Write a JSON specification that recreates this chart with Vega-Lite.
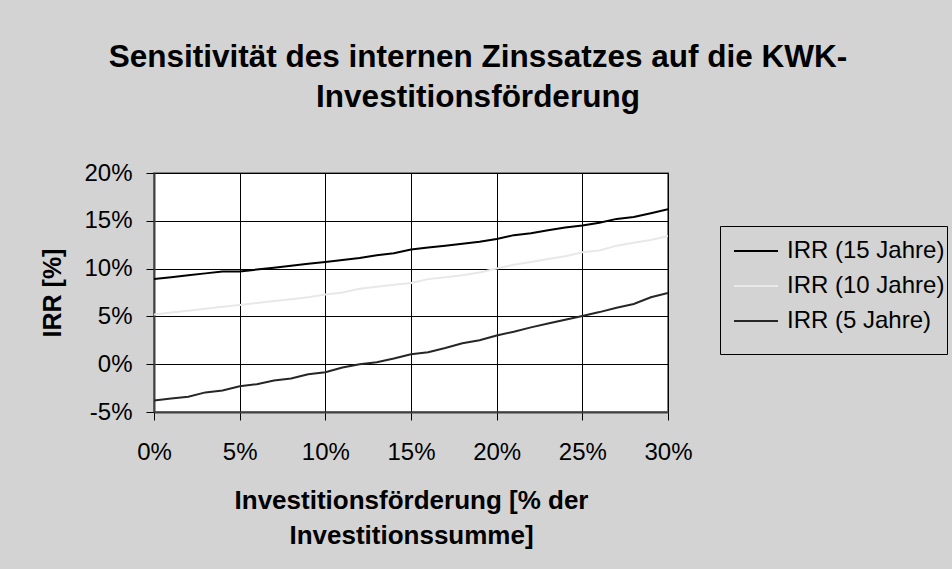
{
  "$schema": "https://vega.github.io/schema/vega-lite/v6.json",
  "width": 514,
  "height": 239,
  "autosize": {"type": "none"},
  "padding": {"left": 154, "top": 173, "right": 284, "bottom": 157},
  "background": "#d3d3d3",
  "config": {
    "view": {"fill": "#ffffff", "stroke": "#808080", "strokeWidth": 2},
    "font": "Liberation Sans"
  },
  "title": {
    "text": ["Sensitivität des internen Zinssatzes auf die KWK-", "Investitionsförderung"],
    "font": "Liberation Sans",
    "fontSize": 31.5,
    "fontWeight": "bold",
    "color": "#000000",
    "anchor": "middle",
    "dx": 67,
    "offset": 48,
    "lineHeight": 40
  },
  "data": {
    "values": [
      {"x": 0, "series": "IRR (15 Jahre)", "irr": 8.9},
      {"x": 1, "series": "IRR (15 Jahre)", "irr": 9.1},
      {"x": 2, "series": "IRR (15 Jahre)", "irr": 9.3},
      {"x": 3, "series": "IRR (15 Jahre)", "irr": 9.5},
      {"x": 4, "series": "IRR (15 Jahre)", "irr": 9.7},
      {"x": 5, "series": "IRR (15 Jahre)", "irr": 9.7},
      {"x": 6, "series": "IRR (15 Jahre)", "irr": 9.9},
      {"x": 7, "series": "IRR (15 Jahre)", "irr": 10.1},
      {"x": 8, "series": "IRR (15 Jahre)", "irr": 10.3},
      {"x": 9, "series": "IRR (15 Jahre)", "irr": 10.5},
      {"x": 10, "series": "IRR (15 Jahre)", "irr": 10.7},
      {"x": 11, "series": "IRR (15 Jahre)", "irr": 10.9},
      {"x": 12, "series": "IRR (15 Jahre)", "irr": 11.1},
      {"x": 13, "series": "IRR (15 Jahre)", "irr": 11.4},
      {"x": 14, "series": "IRR (15 Jahre)", "irr": 11.6},
      {"x": 15, "series": "IRR (15 Jahre)", "irr": 12.0},
      {"x": 16, "series": "IRR (15 Jahre)", "irr": 12.2},
      {"x": 17, "series": "IRR (15 Jahre)", "irr": 12.4},
      {"x": 18, "series": "IRR (15 Jahre)", "irr": 12.6},
      {"x": 19, "series": "IRR (15 Jahre)", "irr": 12.8},
      {"x": 20, "series": "IRR (15 Jahre)", "irr": 13.1},
      {"x": 21, "series": "IRR (15 Jahre)", "irr": 13.5},
      {"x": 22, "series": "IRR (15 Jahre)", "irr": 13.7},
      {"x": 23, "series": "IRR (15 Jahre)", "irr": 14.0},
      {"x": 24, "series": "IRR (15 Jahre)", "irr": 14.3},
      {"x": 25, "series": "IRR (15 Jahre)", "irr": 14.5},
      {"x": 26, "series": "IRR (15 Jahre)", "irr": 14.8},
      {"x": 27, "series": "IRR (15 Jahre)", "irr": 15.2},
      {"x": 28, "series": "IRR (15 Jahre)", "irr": 15.4},
      {"x": 29, "series": "IRR (15 Jahre)", "irr": 15.8},
      {"x": 30, "series": "IRR (15 Jahre)", "irr": 16.2},
      {"x": 0, "series": "IRR (10 Jahre)", "irr": 5.2},
      {"x": 1, "series": "IRR (10 Jahre)", "irr": 5.4},
      {"x": 2, "series": "IRR (10 Jahre)", "irr": 5.6},
      {"x": 3, "series": "IRR (10 Jahre)", "irr": 5.8},
      {"x": 4, "series": "IRR (10 Jahre)", "irr": 6.0},
      {"x": 5, "series": "IRR (10 Jahre)", "irr": 6.2},
      {"x": 6, "series": "IRR (10 Jahre)", "irr": 6.4},
      {"x": 7, "series": "IRR (10 Jahre)", "irr": 6.6},
      {"x": 8, "series": "IRR (10 Jahre)", "irr": 6.8},
      {"x": 9, "series": "IRR (10 Jahre)", "irr": 7.0},
      {"x": 10, "series": "IRR (10 Jahre)", "irr": 7.3},
      {"x": 11, "series": "IRR (10 Jahre)", "irr": 7.5},
      {"x": 12, "series": "IRR (10 Jahre)", "irr": 7.9},
      {"x": 13, "series": "IRR (10 Jahre)", "irr": 8.1},
      {"x": 14, "series": "IRR (10 Jahre)", "irr": 8.3},
      {"x": 15, "series": "IRR (10 Jahre)", "irr": 8.5},
      {"x": 16, "series": "IRR (10 Jahre)", "irr": 8.9},
      {"x": 17, "series": "IRR (10 Jahre)", "irr": 9.1},
      {"x": 18, "series": "IRR (10 Jahre)", "irr": 9.3},
      {"x": 19, "series": "IRR (10 Jahre)", "irr": 9.6},
      {"x": 20, "series": "IRR (10 Jahre)", "irr": 10.0},
      {"x": 21, "series": "IRR (10 Jahre)", "irr": 10.4},
      {"x": 22, "series": "IRR (10 Jahre)", "irr": 10.7},
      {"x": 23, "series": "IRR (10 Jahre)", "irr": 11.0},
      {"x": 24, "series": "IRR (10 Jahre)", "irr": 11.3},
      {"x": 25, "series": "IRR (10 Jahre)", "irr": 11.7},
      {"x": 26, "series": "IRR (10 Jahre)", "irr": 11.9},
      {"x": 27, "series": "IRR (10 Jahre)", "irr": 12.4},
      {"x": 28, "series": "IRR (10 Jahre)", "irr": 12.7},
      {"x": 29, "series": "IRR (10 Jahre)", "irr": 13.0},
      {"x": 30, "series": "IRR (10 Jahre)", "irr": 13.4},
      {"x": 0, "series": "IRR (5 Jahre)", "irr": -3.8},
      {"x": 1, "series": "IRR (5 Jahre)", "irr": -3.6},
      {"x": 2, "series": "IRR (5 Jahre)", "irr": -3.4},
      {"x": 3, "series": "IRR (5 Jahre)", "irr": -2.95},
      {"x": 4, "series": "IRR (5 Jahre)", "irr": -2.75},
      {"x": 5, "series": "IRR (5 Jahre)", "irr": -2.3},
      {"x": 6, "series": "IRR (5 Jahre)", "irr": -2.1},
      {"x": 7, "series": "IRR (5 Jahre)", "irr": -1.7},
      {"x": 8, "series": "IRR (5 Jahre)", "irr": -1.5},
      {"x": 9, "series": "IRR (5 Jahre)", "irr": -1.05},
      {"x": 10, "series": "IRR (5 Jahre)", "irr": -0.85},
      {"x": 11, "series": "IRR (5 Jahre)", "irr": -0.35},
      {"x": 12, "series": "IRR (5 Jahre)", "irr": 0.0},
      {"x": 13, "series": "IRR (5 Jahre)", "irr": 0.2},
      {"x": 14, "series": "IRR (5 Jahre)", "irr": 0.6},
      {"x": 15, "series": "IRR (5 Jahre)", "irr": 1.05},
      {"x": 16, "series": "IRR (5 Jahre)", "irr": 1.25},
      {"x": 17, "series": "IRR (5 Jahre)", "irr": 1.7},
      {"x": 18, "series": "IRR (5 Jahre)", "irr": 2.2},
      {"x": 19, "series": "IRR (5 Jahre)", "irr": 2.5},
      {"x": 20, "series": "IRR (5 Jahre)", "irr": 3.0},
      {"x": 21, "series": "IRR (5 Jahre)", "irr": 3.4},
      {"x": 22, "series": "IRR (5 Jahre)", "irr": 3.85},
      {"x": 23, "series": "IRR (5 Jahre)", "irr": 4.25},
      {"x": 24, "series": "IRR (5 Jahre)", "irr": 4.65},
      {"x": 25, "series": "IRR (5 Jahre)", "irr": 5.05},
      {"x": 26, "series": "IRR (5 Jahre)", "irr": 5.45},
      {"x": 27, "series": "IRR (5 Jahre)", "irr": 5.9},
      {"x": 28, "series": "IRR (5 Jahre)", "irr": 6.3},
      {"x": 29, "series": "IRR (5 Jahre)", "irr": 7.0},
      {"x": 30, "series": "IRR (5 Jahre)", "irr": 7.45}
    ]
  },
  "mark": {"type": "line", "strokeWidth": 2, "clip": true},
  "encoding": {
    "x": {
      "field": "x",
      "type": "quantitative",
      "scale": {"domain": [0, 30], "nice": false, "zero": false},
      "axis": {
        "values": [0, 5, 10, 15, 20, 25, 30],
        "labelExpr": "datum.value + '%'",
        "grid": true,
        "gridColor": "#000000",
        "gridWidth": 1,
        "gridOpacity": 1,
        "domainColor": "#404040",
        "domainWidth": 2,
        "tickColor": "#000000",
        "tickSize": 8,
        "labelFont": "Liberation Sans",
        "labelFontSize": 24,
        "labelColor": "#000000",
        "labelPadding": 20,
        "labelFlush": false,
        "title": ["Investitionsförderung [% der", "Investitionssumme]"],
        "titleFont": "Liberation Sans",
        "titleFontSize": 26,
        "titleFontWeight": "bold",
        "titleColor": "#000000",
        "titleLineHeight": 35,
        "titlePadding": 23
      }
    },
    "y": {
      "field": "irr",
      "type": "quantitative",
      "scale": {"domain": [-5, 20], "nice": false, "zero": false},
      "axis": {
        "values": [-5, 0, 5, 10, 15, 20],
        "labelExpr": "datum.value + '%'",
        "grid": true,
        "gridColor": "#000000",
        "gridWidth": 1,
        "gridOpacity": 1,
        "domainColor": "#404040",
        "domainWidth": 2,
        "tickColor": "#000000",
        "tickSize": 8,
        "labelFont": "Liberation Sans",
        "labelFontSize": 24,
        "labelColor": "#000000",
        "labelPadding": 14,
        "labelFlush": false,
        "title": "IRR [%]",
        "titleFont": "Liberation Sans",
        "titleFontSize": 25,
        "titleFontWeight": "bold",
        "titleColor": "#000000",
        "titlePadding": 18
      }
    },
    "color": {
      "field": "series",
      "type": "nominal",
      "scale": {
        "domain": ["IRR (15 Jahre)", "IRR (10 Jahre)", "IRR (5 Jahre)"],
        "range": ["#000000", "#e8e8e8", "#262626"]
      },
      "legend": {
        "orient": "none",
        "legendX": 566,
        "legendY": 53,
        "title": " ",
        "titleOrient": "bottom",
        "titleFontSize": 10,
        "titlePadding": 9,
        "strokeColor": "#000000",
        "fillColor": "#d3d3d3",
        "padding": 2,
        "symbolType": "stroke",
        "symbolSize": 1936,
        "symbolOffset": 11,
        "symbolStrokeWidth": 2,
        "labelFont": "Liberation Sans",
        "labelFontSize": 24,
        "labelColor": "#000000",
        "labelOffset": 8,
        "rowPadding": 0
      }
    }
  }
}
